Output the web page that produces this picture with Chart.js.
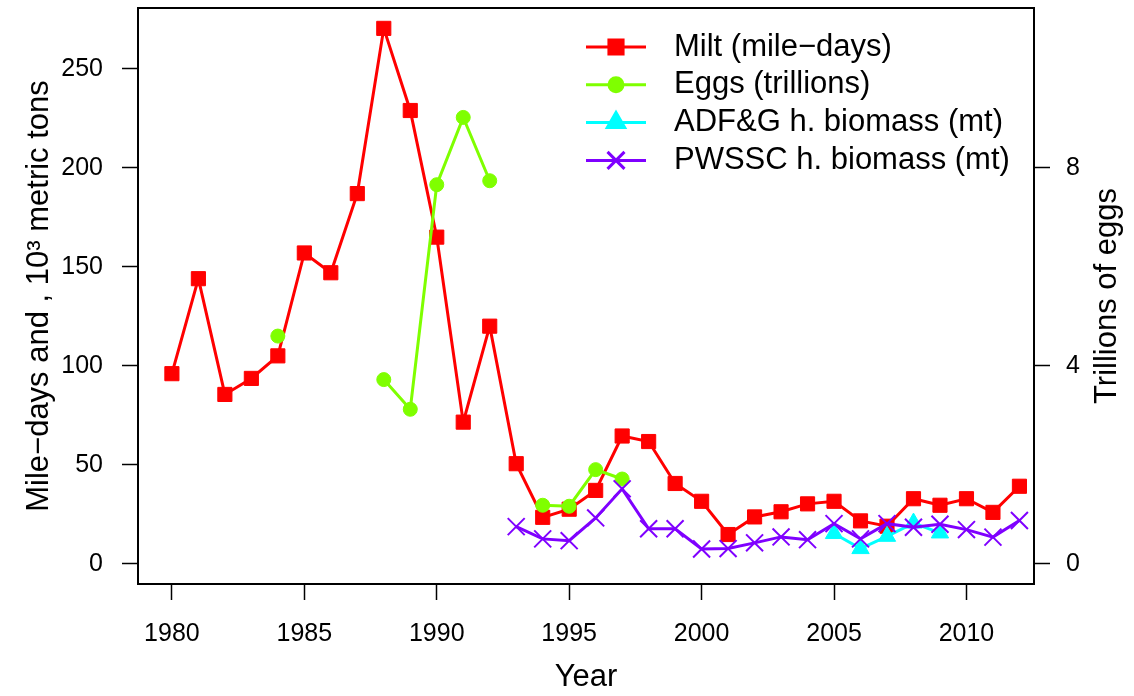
<!DOCTYPE html>
<html>
<head>
<meta charset="utf-8">
<script src="https://cdn.jsdelivr.net/npm/chart.js@4.4.1/dist/chart.umd.min.js"></script>
<style>
    html, body { margin: 0; padding: 0; background: #fff; }
    #wrap { width: 1134px; height: 696px; }
</style>
</head>
<body>
<div id="wrap"><canvas id="herringChart"></canvas></div>
<script>
// Survey years
const years = [1980, 1981, 1982, 1983, 1984, 1985, 1986, 1987, 1988, 1989, 1990,
    1991, 1992, 1993, 1994, 1995, 1996, 1997, 1998, 1999, 2000, 2001, 2002,
    2003, 2004, 2005, 2006, 2007, 2008, 2009, 2010, 2011, 2012];

// Milt (mile-days), left axis
const milt = [96, 144, 85.5, 93.6, 105, 157, 147, 187, 270.5, 229, 165,
    71.5, 120, 50.5, 23.4, 27.5, 37, 64.5, 61.7, 40.5, 31.5, 14.7, 23.6,
    26.2, 30.2, 31.5, 21.6, 18.9, 32.8, 29.5, 32.8, 25.9, 39.1];

// Eggs (trillions), right axis
const eggs = [null, null, null, null, 4.6, null, null, null, 3.72, 3.12, 7.66,
    9.02, 7.74, null, 1.18, 1.16, 1.9, 1.71, null, null, null, null, null,
    null, null, null, null, null, null, null, null, null, null];

// ADF&G hydroacoustic biomass (10^3 mt)
const adfgBiomass = [null, null, null, null, null, null, null, null, null, null, null,
    null, null, null, null, null, null, null, null, null, null, null, null,
    null, null, 15.2, 7.6, 13.8, 20.5, 15.5, null, null, null];

// PWSSC hydroacoustic biomass (10^3 mt)
const pwsscBiomass = [null, null, null, null, null, null, null, null, null, null, null,
    null, null, 18.7, 12.5, 11.6, 23.1, 37.8, 17.6, 17.6, 7.4, 7.6, 10.5,
    13.5, 12.1, 20.2, 12.5, 20.2, 18.4, 19.9, 17.2, 13.4, 21.8];

const yearTicks = [1980, 1985, 1990, 1995, 2000, 2005, 2010];
const leftTicks = [0, 50, 100, 150, 200, 250];
const rightTicks = [0, 4, 8];

const seriesNames = ['Milt (mile\u2212days)', 'Eggs (trillions)',
    'ADF&G h. biomass (mt)', 'PWSSC h. biomass (mt)'];

const FONT = '"Liberation Sans", Arial, Helvetica, sans-serif';

function toPoints(values) {
    return years.map((yr, i) => ({ x: yr, y: values[i] }));
}

function tickMarks() {
    return {
        display: true,
        drawOnChartArea: false,
        drawTicks: true,
        tickLength: 16,
        tickWidth: 1.5,
        tickColor: '#000'
    };
}

// Fix the axis sizes so the plot box lands where the original has it
function fitVertical(width) {
    return scale => {
        scale.width = width;
        scale.paddingTop = 0;
        scale.paddingBottom = 0;
    };
}

// Box around the plot region plus the manual legend and right-hand title
const decorations = {
    id: 'decorations',
    afterDraw(chart) {
        const ctx = chart.ctx;
        const area = chart.chartArea;
        ctx.save();
        ctx.strokeStyle = '#000';
        ctx.lineWidth = 2;
        ctx.strokeRect(area.left, area.top, area.right - area.left, area.bottom - area.top);

        // legend
        ctx.font = '31px ' + FONT;
        ctx.textBaseline = 'middle';
        ctx.textAlign = 'left';
        chart.data.datasets.forEach((ds, i) => {
            const y = 47 + i * 37.8;
            ctx.strokeStyle = ds.borderColor;
            ctx.fillStyle = ds.borderColor;
            ctx.lineWidth = ds.borderWidth;
            ctx.beginPath();
            ctx.moveTo(586, y);
            ctx.lineTo(646, y);
            ctx.stroke();
            Chart.helpers.drawPoint(ctx, {
                pointStyle: ds.pointStyle,
                radius: ds.pointRadius,
                rotation: 0,
                borderWidth: ds.pointBorderWidth
            }, 616, y);
            ctx.fillStyle = '#000';
            ctx.fillText(ds.label, 674, y);
        });

        // right axis title, reading bottom to top
        ctx.translate(1107, (area.top + area.bottom) / 2);
        ctx.rotate(-Math.PI / 2);
        ctx.textAlign = 'center';
        ctx.fillStyle = '#000';
        ctx.fillText('Trillions of eggs', 0, 0);
        ctx.restore();
    }
};

const ctx = document.getElementById('herringChart').getContext('2d');

new Chart(ctx, {
    type: 'line',
    data: {
        datasets: [
            {
                label: seriesNames[0],
                data: toPoints(milt),
                yAxisID: 'y',
                borderColor: '#FF0000',
                backgroundColor: '#FF0000',
                borderWidth: 3,
                pointStyle: 'rect',
                pointRadius: 10,
                pointBorderWidth: 1,
                order: 4
            },
            {
                label: seriesNames[1],
                data: toPoints(eggs),
                yAxisID: 'y1',
                borderColor: '#7FFF00',
                backgroundColor: '#7FFF00',
                borderWidth: 3,
                pointStyle: 'circle',
                pointRadius: 7,
                pointBorderWidth: 1,
                spanGaps: false,
                order: 3
            },
            {
                label: seriesNames[2],
                data: toPoints(adfgBiomass),
                yAxisID: 'y',
                borderColor: '#00FFFF',
                backgroundColor: '#00FFFF',
                borderWidth: 3,
                pointStyle: 'triangle',
                pointRadius: 10,
                pointBorderWidth: 1,
                order: 2
            },
            {
                label: seriesNames[3],
                data: toPoints(pwsscBiomass),
                yAxisID: 'y',
                borderColor: '#7F00FF',
                backgroundColor: '#7F00FF',
                borderWidth: 3,
                pointStyle: 'crossRot',
                pointRadius: 12,
                pointBorderWidth: 2,
                order: 1
            }
        ]
    },
    options: {
        responsive: true,
        maintainAspectRatio: false,
        animation: false,
        layout: { autoPadding: false, padding: { top: 8, left: 0, right: 0, bottom: 0 } },
        plugins: {
            legend: { display: false },
            tooltip: { enabled: false }
        },
        scales: {
            x: {
                type: 'linear',
                min: 1978.72,
                max: 2012.55,
                afterBuildTicks: scale => { scale.ticks = yearTicks.map(v => ({ value: v })); },
                afterFit: scale => {
                    scale.height = 112;
                    scale.paddingLeft = 0;
                    scale.paddingRight = 0;
                },
                grid: tickMarks(),
                border: { display: false },
                ticks: {
                    color: '#000',
                    font: { family: FONT, size: 25 },
                    padding: 19,
                    maxRotation: 0,
                    autoSkip: false,
                    callback: v => String(v)
                },
                title: {
                    display: true,
                    text: 'Year',
                    color: '#000',
                    font: { family: FONT, size: 31 },
                    padding: { top: 0, bottom: 0 }
                }
            },
            y: {
                type: 'linear',
                position: 'left',
                min: -10.3,
                max: 280.8,
                afterBuildTicks: scale => { scale.ticks = leftTicks.map(v => ({ value: v })); },
                afterFit: fitVertical(138),
                grid: tickMarks(),
                border: { display: false },
                ticks: {
                    color: '#000',
                    font: { family: FONT, size: 25 },
                    padding: 19,
                    callback: v => String(v)
                },
                title: {
                    display: true,
                    text: 'Mile\u2212days and , 10\u00B3 metric tons',
                    color: '#000',
                    font: { family: FONT, size: 31 },
                    padding: { top: 21, bottom: 0 }
                }
            },
            y1: {
                type: 'linear',
                position: 'right',
                min: -10.3 / 25,
                max: 280.8 / 25,
                afterBuildTicks: scale => { scale.ticks = rightTicks.map(v => ({ value: v })); },
                afterFit: fitVertical(100),
                grid: tickMarks(),
                border: { display: false },
                ticks: {
                    color: '#000',
                    font: { family: FONT, size: 25 },
                    padding: 16,
                    callback: v => String(v)
                }
            }
        }
    },
    plugins: [decorations]
});
</script>
</body>
</html>
